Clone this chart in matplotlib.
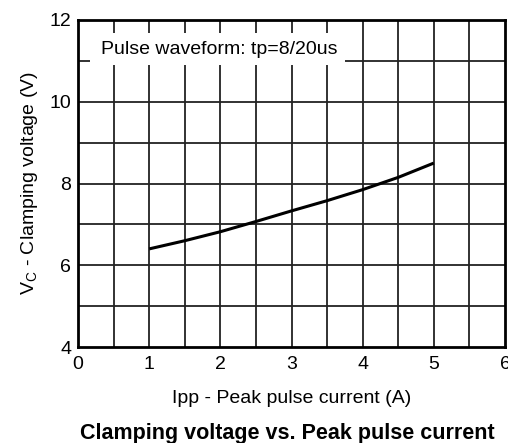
import matplotlib
matplotlib.use("Agg")
import matplotlib.pyplot as plt
from matplotlib.patches import Rectangle
import numpy as np

plt.rcParams['font.family'] = ['Liberation Sans', 'DejaVu Sans']

ipp = [1.0, 1.5, 2.0, 2.5, 3.0, 3.5, 4.0, 4.5, 5.0]
vc = [6.40, 6.60, 6.82, 7.07, 7.33, 7.58, 7.85, 8.15, 8.50]
x_ticks = [0, 1, 2, 3, 4, 5, 6]
y_ticks = [4, 6, 8, 10, 12]

fig = plt.figure(figsize=(5.08, 4.43), dpi=100)
ax = fig.add_axes([78/508, 1-347/443, (505-78)/508, (347-20)/443])
ax.set_xlim(0, 6)
ax.set_ylim(4, 12)

for xv in np.arange(0.5, 6, 0.5):
    ax.axvline(xv, color='#222222', lw=1.3, zorder=1)
for yv in range(5, 12):
    ax.axhline(yv, color='#222222', lw=1.3, zorder=1)

ax.plot(ipp, vc, color='black', lw=2.2, zorder=3, solid_capstyle='butt')

ax.set_xticks(x_ticks)
ax.set_yticks(y_ticks)
ax.tick_params(length=0, labelsize=14)
ax.tick_params(axis='x', pad=6.5)
ax.tick_params(axis='y', pad=5)
for s in ax.spines.values():
    s.set_linewidth(2)
    s.set_zorder(4)

ax.add_patch(Rectangle((0.028, 1 - 45/327), 0.597, 32/327, transform=ax.transAxes,
                       facecolor='white', edgecolor='none', zorder=2))
ax.text(0.0535, 1 - 29/327, "Pulse waveform: tp=8/20us", fontsize=14, va='center', ha='left',
        zorder=5, transform=ax.transAxes)

ax.set_xlabel("Ipp - Peak pulse current (A)", fontsize=14, labelpad=12)
ax.set_ylabel(r"V$_\mathregular{C}$ - Clamping voltage (V)", fontsize=14, labelpad=7)
fig.text((81+493)/2/508, 1-433/443, "Clamping voltage vs. Peak pulse current", fontsize=15.5,
         fontweight='bold', ha='center', va='center')

fig.savefig("out.png", dpi=100)
